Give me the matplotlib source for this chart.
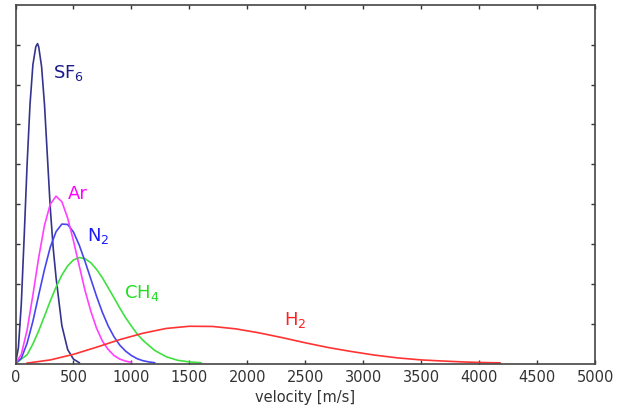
import numpy as np
import matplotlib
matplotlib.use('Agg')
import matplotlib.pyplot as plt

# velocity [m/s] and distribution height (axis units, ticks at 1..8)
sf6_v = [0, 25, 50, 75, 100, 125, 150, 175, 190, 200, 225, 250, 275, 300, 325, 350, 400, 450, 500, 550]
sf6_y = [0, 0.4, 1.5, 3.2, 5.0, 6.5, 7.5, 7.95, 8.03, 7.95, 7.45, 6.5, 5.2, 3.9, 2.9, 2.15, 0.95, 0.35, 0.11, 0.02]

ar_v = [0, 50, 100, 150, 200, 250, 300, 350, 400, 450, 500, 550, 600, 650, 700, 750, 800, 850, 900, 950, 1000]
ar_y = [0, 0.23, 0.84, 1.72, 2.66, 3.47, 4.0, 4.2, 4.06, 3.65, 3.08, 2.45, 1.83, 1.31, 0.88, 0.56, 0.35, 0.2, 0.11, 0.06, 0.03]

n2_v = [0, 50, 100, 150, 200, 250, 300, 350, 400, 450, 500, 550, 600, 650, 700, 750, 800, 850, 900, 950,
        1000, 1050, 1100, 1150, 1200]
n2_y = [0, 0.13, 0.51, 1.06, 1.72, 2.36, 2.92, 3.31, 3.5, 3.49, 3.3, 2.97, 2.56, 2.12, 1.68, 1.28, 0.94, 0.67,
        0.46, 0.31, 0.2, 0.12, 0.07, 0.04, 0.02]

ch4_v = [0, 100, 150, 200, 250, 300, 350, 400, 450, 500, 550, 600, 650, 700, 750, 800, 850, 900, 950, 1000,
         1050, 1100, 1200, 1300, 1400, 1500, 1600]
ch4_y = [0, 0.22, 0.49, 0.82, 1.19, 1.57, 1.92, 2.22, 2.45, 2.6, 2.66, 2.63, 2.53, 2.36, 2.15, 1.9, 1.65, 1.39,
         1.15, 0.94, 0.74, 0.58, 0.33, 0.17, 0.08, 0.04, 0.02]

h2_v = [100, 300, 500, 700, 900, 1100, 1300, 1500, 1700, 1900, 2100, 2300, 2500, 2700, 2900, 3100, 3300,
        3500, 3700, 3900, 4100, 4180]
h2_y = [0.01, 0.09, 0.23, 0.41, 0.6, 0.76, 0.88, 0.935, 0.93, 0.87, 0.77, 0.65, 0.52, 0.4, 0.3, 0.21, 0.14,
        0.09, 0.06, 0.035, 0.02, 0.017]

fig = plt.figure(figsize=(6.28, 4.12), dpi=100)
ax = fig.add_axes([0.0247, 0.1177, 0.9228, 0.8703])

ax.plot(sf6_v, sf6_y, color='#34348f', lw=1.2)
ax.plot(ch4_v, ch4_y, color='#40e040', lw=1.2)
ax.plot(n2_v, n2_y, color='#4646f0', lw=1.2)
ax.plot(ar_v, ar_y, color='#ff40ff', lw=1.2)
ax.plot(h2_v, h2_y, color='#ff3333', lw=1.2)

lab = dict(fontsize=13, ha='left', va='center')
ax.text(320, 7.28, r'$\mathregular{SF_6}$', color='#1a1a8c', **lab)
ax.text(450, 4.25, 'Ar', color='#ff00ff', **lab)
ax.text(620, 3.2, r'$\mathregular{N_2}$', color='#1a1aff', **lab)
ax.text(940, 1.78, r'$\mathregular{CH_4}$', color='#22dd22', **lab)
ax.text(2320, 1.08, r'$\mathregular{H_2}$', color='#ff2020', **lab)

ax.set_xlim(0, 5000)
ax.set_ylim(0, 9)
ax.set_xticks(np.arange(0, 5001, 500))
ax.set_yticks(np.arange(1, 9))
ax.set_yticklabels([])
ax.tick_params(direction='in', top=True, right=True, length=3, width=1, colors='#333333',
               labelsize=10.5, labelcolor='#333333')
ax.tick_params(axis='x', pad=5)
for s in ax.spines.values():
    s.set_color('#444444')
    s.set_linewidth(1.2)
ax.set_xlabel('velocity [m/s]', fontsize=10.5, color='#333333', labelpad=3)

fig.savefig('out.png', dpi=100)
